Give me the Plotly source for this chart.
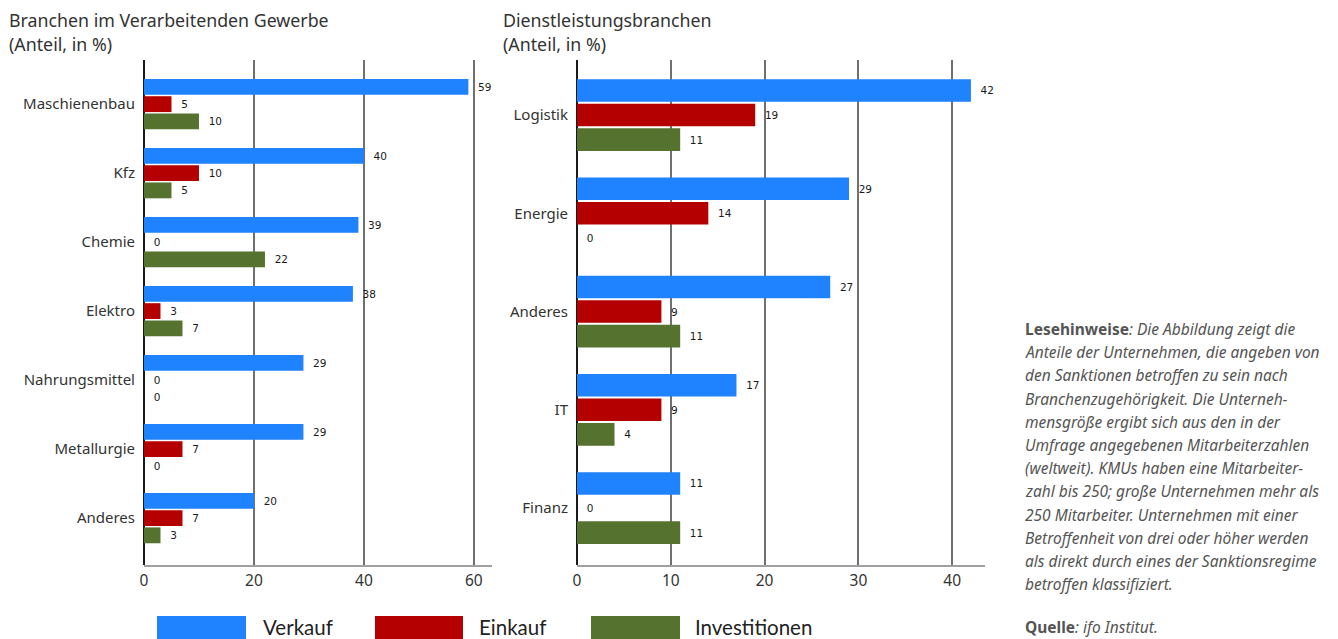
import plotly.graph_objects as go

# --- data -----------------------------------------------------------------
manuf_categories = ["Maschienenbau", "Kfz", "Chemie", "Elektro",
                    "Nahrungsmittel", "Metallurgie", "Anderes"]
manuf_verkauf = [59, 40, 39, 38, 29, 29, 20]
manuf_einkauf = [5, 10, 0, 3, 0, 7, 7]
manuf_invest = [10, 5, 22, 7, 0, 0, 3]

serv_categories = ["Logistik", "Energie", "Anderes", "IT", "Finanz"]
serv_verkauf = [42, 29, 27, 17, 11]
serv_einkauf = [19, 14, 9, 9, 0]
serv_invest = [11, 0, 11, 4, 11]

series_names = ["Verkauf", "Einkauf", "Investitionen"]
series_colors = ["#1f82fe", "#b50000", "#55722f"]

left_ticks = [0, 20, 40, 60]
right_ticks = [0, 10, 20, 30, 40]

# --- layout helpers -------------------------------------------------------
W, H = 1338, 639


def px_x(x):
    return x / W


def px_y(y):
    return 1 - y / H


TEXT = "#333333"
SANS = "Noto Sans"
VALUE_FONT = dict(family="DejaVu Sans", size=10.5, color="#1a1a1a")

fig = go.Figure()

panels = [
    ("x", "y", manuf_categories, [manuf_verkauf, manuf_einkauf, manuf_invest]),
    ("x2", "y2", serv_categories, [serv_verkauf, serv_einkauf, serv_invest]),
]

for xa, ya, cats, values in panels:
    for name, color, vals in zip(series_names, series_colors, values):
        fig.add_trace(go.Bar(
            x=vals, y=cats, orientation="h", name=name,
            marker=dict(color=color, line=dict(width=0)),
            text=["  " + str(v) for v in vals], textposition="outside",
            textfont=VALUE_FONT, cliponaxis=False,
            xaxis=xa, yaxis=ya, showlegend=False, hoverinfo="skip",
        ))

axis_common = dict(
    showgrid=True, gridcolor="#707070", gridwidth=1.5,
    zeroline=True, zerolinecolor="#1a1a1a", zerolinewidth=1.5,
    showline=True, linecolor="#a0a0a0", linewidth=2,
    ticks="", tickfont=dict(family=SANS, size=15.5, color=TEXT),
    automargin=False, fixedrange=True,
)
yaxis_common = dict(
    showgrid=False, zeroline=False, showline=False, ticks="",
    tickfont=dict(family=SANS, size=15, color=TEXT),
    ticklabelstandoff=8, automargin=False, fixedrange=True,
)

plot_top, plot_bottom = px_y(60), px_y(565)

fig.update_layout(
    width=W, height=H,
    margin=dict(l=0, r=0, t=0, b=0, autoexpand=False),
    paper_bgcolor="white", plot_bgcolor="white",
    barmode="group", bargap=0.25, bargroupgap=0.08,
    xaxis=dict(domain=[px_x(144), px_x(492)], range=[0, 63.3],
               tickvals=left_ticks, anchor="y", **axis_common),
    yaxis=dict(domain=[plot_bottom, plot_top], range=[6.68, -0.64],
               anchor="x", **yaxis_common),
    xaxis2=dict(domain=[px_x(577), px_x(985)], range=[0, 43.5],
                tickvals=right_ticks, anchor="y2", **axis_common),
    yaxis2=dict(domain=[plot_bottom, plot_top], range=[4.58, -0.56],
                anchor="x2", **yaxis_common),
)

# --- panel titles ---------------------------------------------------------
title_font = dict(family=SANS, size=17.8, color=TEXT)
for x0, title in [(8, "Branchen im Verarbeitenden Gewerbe"),
                  (502, "Dienstleistungsbranchen")]:
    fig.add_annotation(x=px_x(x0), y=px_y(20), xref="paper", yref="paper",
                       text=title, showarrow=False, xanchor="left",
                       yanchor="middle", font=title_font, borderpad=0)
    fig.add_annotation(x=px_x(x0), y=px_y(44), xref="paper", yref="paper",
                       text="(Anteil, in %)", showarrow=False, xanchor="left",
                       yanchor="middle", font=title_font, borderpad=0)

# --- legend ---------------------------------------------------------------
legend_items = [(157, 246, 262), (375, 463, 478), (591, 680, 694)]
for (sx0, sx1, tx), name, color in zip(legend_items, series_names, series_colors):
    fig.add_shape(type="rect", xref="paper", yref="paper",
                  x0=px_x(sx0), x1=px_x(sx1), y0=px_y(639), y1=px_y(616),
                  fillcolor=color, line=dict(width=0))
    fig.add_annotation(x=px_x(tx), y=px_y(627), xref="paper", yref="paper",
                       text=name, showarrow=False, xanchor="left",
                       yanchor="middle", borderpad=0,
                       font=dict(family="Lato", size=20.5, color="#222222"))

# --- reading note ---------------------------------------------------------
note_lines = [
    "<b>Lesehinweise</b><i>: Die Abbildung zeigt die</i>",
    "<i>Anteile der Unternehmen, die angeben von</i>",
    "<i>den Sanktionen betroffen zu sein nach</i>",
    "<i>Branchenzugehörigkeit. Die Unterneh-</i>",
    "<i>mensgröße ergibt sich aus den in der</i>",
    "<i>Umfrage angegebenen Mitarbeiterzahlen</i>",
    "<i>(weltweit). KMUs haben eine Mitarbeiter-</i>",
    "<i>zahl bis 250; große Unternehmen mehr als</i>",
    "<i>250 Mitarbeiter. Unternehmen mit einer</i>",
    "<i>Betroffenheit von drei oder höher werden</i>",
    "<i>als direkt durch eines der Sanktionsregime</i>",
    "<i>betroffen klassifiziert.</i>",
]
note_font = dict(family=SANS, size=15.5, color="#555555")
for i, line in enumerate(note_lines):
    fig.add_annotation(x=px_x(1024), y=px_y(329 + i * 23.2), xref="paper",
                       yref="paper", text=line, showarrow=False,
                       xanchor="left", yanchor="middle", font=note_font,
                       borderpad=0)
fig.add_annotation(x=px_x(1024), y=px_y(627), xref="paper", yref="paper",
                   text="<b>Quelle</b><i>: ifo Institut.</i>", showarrow=False,
                   xanchor="left", yanchor="middle", font=note_font,
                   borderpad=0)

fig.write_html("out.html")
